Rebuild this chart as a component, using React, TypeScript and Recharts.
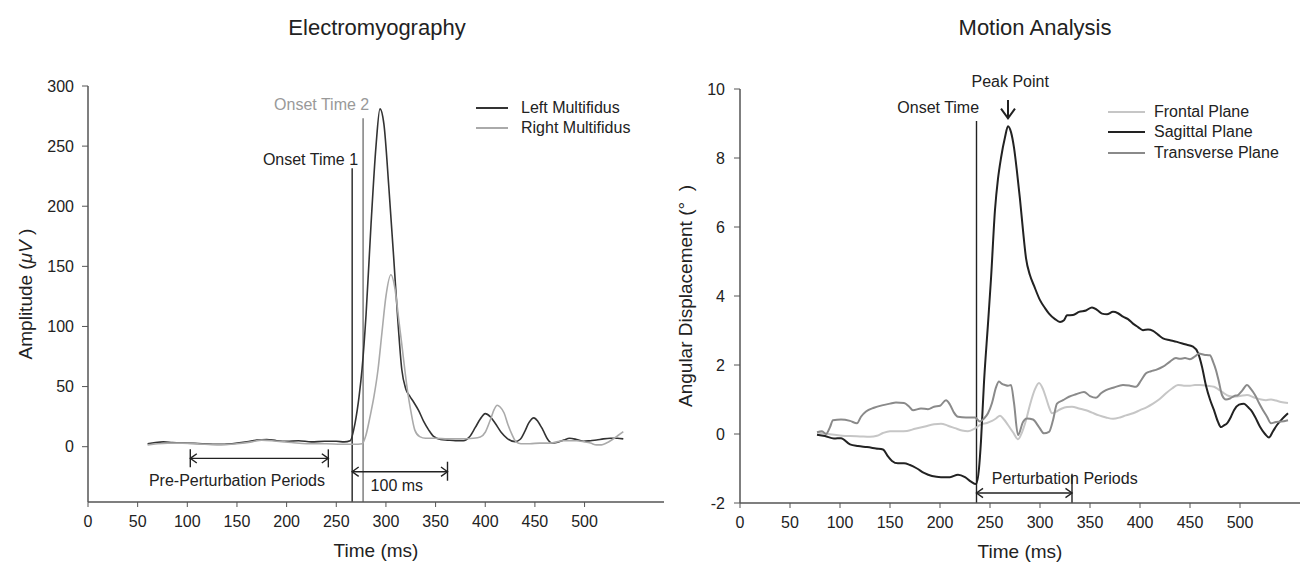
import React from 'react';
import { LineChart, Line, XAxis, YAxis, ReferenceLine, ReferenceDot, Legend } from 'recharts';

const FONT = '"Liberation Sans", Arial, Helvetica, sans-serif';
const INK = '#222';
const AXIS = '#555';

// ---------------- Electromyography (left panel) ----------------
const emgTimeTicks = [0, 50, 100, 150, 200, 250, 300, 350, 400, 450, 500];
const emgAmpTicks = [0, 50, 100, 150, 200, 250, 300];

// [time ms, amplitude µV]
const leftMultifidus: [number, number][] = [
  [60, 2.5], [68, 3.5], [76, 4], [85, 3.5], [100, 3], [115, 2.5], [130, 2], [145, 2.5], [160, 4], [170, 5.5],
  [180, 6], [190, 5], [200, 4.5], [212, 5], [225, 4], [238, 4.5], [250, 4.5], [258, 4], [264, 5], [269, 20],
  [273, 42], [276, 65], [280, 110], [285, 185], [290, 250], [294, 281], [298, 268], [303, 215], [308, 155],
  [312, 105], [316, 64], [320, 48], [324, 42], [328, 37], [333, 30], [338, 21], [343, 14], [348, 8.5], [355, 6],
  [362, 5.5], [370, 5], [378, 5], [384, 8], [390, 16], [395, 23], [400, 27.5], [405, 25], [410, 19.5], [416, 12],
  [422, 7], [430, 4.2], [435, 6], [440, 13], [444, 20], [449, 24], [453, 21], [458, 14], [463, 6], [467, 3],
  [472, 3.5], [479, 5.5], [485, 7], [492, 6], [499, 4.5], [506, 5], [512, 5.5], [519, 6.5], [526, 7], [533, 7],
  [539, 6.5],
];
const rightMultifidus: [number, number][] = [
  [60, 1.5], [70, 2.5], [80, 3], [95, 3], [110, 2.5], [130, 1.5], [150, 2.5], [165, 4], [175, 5.5], [190, 4.5],
  [205, 3.5], [220, 2.5], [240, 2.5], [255, 2], [268, 2], [276, 2.5], [280, 10], [284, 25], [288, 42], [292, 64],
  [296, 95], [300, 125], [305, 143], [309, 132], [313, 105], [316, 85], [319, 64], [322, 45], [325, 30], [329, 14],
  [334, 8.4], [340, 7], [350, 7], [362, 6.5], [375, 6.5], [388, 7], [395, 8], [400, 12], [405, 22], [409, 31],
  [412, 34.5], [415, 33], [419, 28], [423, 18], [427, 10], [431, 4], [436, 2.5], [445, 2.5], [455, 3], [465, 3],
  [479, 5], [492, 5], [500, 4], [506, 3], [512, 1.5], [517, 1.5], [522, 3], [528, 6], [534, 9.5], [539, 12.5],
];

// annotations (data coordinates)
const emgOnsetTimes = [266, 277];
const emgOnsetTops = [231.6, 273.2];
const emgPrePeriod = [103, 242];
const emgPreLevel = -9.7;
const emgPreBar = [-2.2, -17.2];
const emgWindow = [266, 362];
const emgWindowLevel = -20.8;
const emgWindowBar = [-12.5, -28.3];
const emgLabelOnset1 = [224, 239];
const emgLabelOnset2 = [235.3, 284.9];
const emgLabelPre = [150, -28.3];
const emgLabelWindow = [311, -31.9];

// ---------------- Motion Analysis (right panel) ----------------
const motTimeTicks = [0, 50, 100, 150, 200, 250, 300, 350, 400, 450, 500];
const motDegTicks = [-2, 0, 2, 4, 6, 8, 10];

// [time ms, angle deg]
const frontalPlane: [number, number][] = [
  [77, 0.04], [83, 0.02], [90, -0.01], [100, -0.04], [110, -0.06], [120, -0.07], [130, -0.08], [137, -0.05],
  [143, 0.03], [150, 0.08], [160, 0.08], [167, 0.09], [175, 0.15], [185, 0.22], [194, 0.28], [201, 0.3],
  [208, 0.24], [215, 0.17], [222, 0.1], [228, 0.08], [235, 0.16], [241, 0.28], [247, 0.32], [252, 0.38],
  [256, 0.45], [260, 0.53], [264, 0.42], [268, 0.26], [273, 0.05], [278, -0.15], [282, 0.05], [286, 0.4],
  [290, 0.85], [295, 1.3], [299, 1.48], [303, 1.3], [306, 1.05], [309, 0.78], [312, 0.6], [317, 0.66],
  [322, 0.74], [327, 0.78], [332, 0.79], [339, 0.74], [346, 0.69], [352, 0.62], [359, 0.54], [366, 0.48],
  [373, 0.44], [380, 0.48], [386, 0.54], [393, 0.6], [400, 0.69], [407, 0.78], [413, 0.88], [420, 1.02],
  [426, 1.18], [432, 1.32], [438, 1.42], [444, 1.4], [450, 1.4], [455, 1.42], [460, 1.42], [467, 1.4],
  [474, 1.37], [479, 1.28], [484, 1.18], [489, 1.1], [494, 1.08], [500, 1.1], [507, 1.13], [514, 1.06],
  [521, 1.0], [526, 0.98], [531, 1.0], [536, 0.97], [541, 0.93], [548, 0.9],
];
const sagittalPlane: [number, number][] = [
  [77, -0.02], [85, -0.06], [94, -0.13], [101, -0.12], [110, -0.3], [118, -0.35], [127, -0.38], [136, -0.42],
  [143, -0.45], [148, -0.65], [152, -0.78], [158, -0.85], [164, -0.85], [170, -0.9], [177, -1.0], [184, -1.13],
  [192, -1.22], [201, -1.25], [210, -1.25], [218, -1.18], [225, -1.25], [231, -1.38], [236, -1.45], [239, -1.0],
  [241, -0.2], [244, 1.5], [248, 3.2], [251, 4.5], [255, 6.5], [258, 7.4], [261, 8.0], [265, 8.6], [268, 8.92],
  [271, 8.75], [274, 8.3], [277, 7.6], [280, 6.8], [283, 5.9], [286, 5.1], [290, 4.6], [294, 4.3], [300, 3.88],
  [305, 3.65], [309, 3.49], [315, 3.33], [320, 3.25], [324, 3.3], [327, 3.44], [333, 3.45], [339, 3.54],
  [346, 3.58], [352, 3.67], [357, 3.6], [362, 3.49], [367, 3.47], [373, 3.54], [378, 3.5], [383, 3.4],
  [388, 3.33], [393, 3.2], [398, 3.1], [403, 3.01], [408, 3.03], [413, 2.99], [418, 2.88], [423, 2.77],
  [430, 2.72], [437, 2.67], [445, 2.6], [453, 2.53], [458, 2.35], [462, 1.95], [466, 1.4], [470, 1.0],
  [474, 0.69], [478, 0.35], [481, 0.2], [484, 0.25], [487, 0.31], [491, 0.5], [494, 0.69], [499, 0.85],
  [504, 0.88], [508, 0.78], [511, 0.69], [515, 0.5], [520, 0.21], [525, 0.0], [529, -0.1], [533, 0.08],
  [537, 0.26], [542, 0.43], [548, 0.6],
];
const transversePlane: [number, number][] = [
  [77, 0.05], [82, 0.08], [86, 0.0], [90, 0.2], [93, 0.4], [101, 0.42], [110, 0.38], [117, 0.31], [121, 0.5],
  [126, 0.65], [134, 0.76], [142, 0.83], [150, 0.88], [156, 0.91], [164, 0.9], [169, 0.8], [173, 0.69],
  [181, 0.74], [188, 0.72], [194, 0.79], [200, 0.82], [206, 0.98], [210, 0.85], [214, 0.62], [218, 0.5],
  [226, 0.48], [235, 0.48], [240, 0.36], [244, 0.45], [248, 0.6], [252, 0.9], [256, 1.35], [259, 1.52],
  [262, 1.45], [265, 1.42], [268, 1.4], [271, 1.42], [274, 0.9], [278, -0.03], [283, 0.35], [287, 0.45],
  [293, 0.42], [299, 0.2], [304, 0.02], [309, 0.06], [313, 0.4], [317, 0.88], [323, 0.98], [329, 1.08],
  [336, 1.15], [344, 1.22], [350, 1.1], [356, 1.05], [361, 1.18], [366, 1.27], [374, 1.35], [383, 1.42],
  [390, 1.4], [396, 1.37], [401, 1.55], [406, 1.76], [411, 1.82], [416, 1.86], [423, 1.95], [430, 2.1],
  [436, 2.2], [440, 2.18], [445, 2.2], [450, 2.17], [455, 2.25], [459, 2.33], [464, 2.3], [470, 2.28],
  [473, 2.1], [476, 1.85], [479, 1.5], [482, 1.13], [486, 1.0], [490, 1.03], [494, 1.1], [498, 1.13],
  [502, 1.25], [507, 1.42], [511, 1.3], [515, 1.13], [519, 0.9], [523, 0.69], [527, 0.5], [531, 0.31],
  [536, 0.35], [541, 0.36], [548, 0.4],
];

const motOnsetTime = 236.5;
const motOnsetTop = 9.07;
const motPeakArrow = [268, 9.68, 9.15]; // x, from y, to y
const motPeriod = [236.5, 332];
const motPeriodLevel = -1.71;
const motPeriodBar = [-2, -1.15];
const motLabelOnset = [198.2, 9.46];
const motLabelPeak = [270.2, 10.23];
const motLabelPeriod = [324.7, -1.28];

const toRows = (pts: [number, number][]) => pts.map(([t, v]) => ({ t, v }));

// ---------------- helpers ----------------
const arrowShape = (start: boolean, end: boolean, color: string, arm = 8, ang = 0.62, width = 1.4) => (p: any) => {
  const { x1, y1, x2, y2 } = p;
  if ([x1, y1, x2, y2].some((n) => typeof n !== 'number' || isNaN(n))) return <g />;
  const a = Math.atan2(y2 - y1, x2 - x1);
  const head = (x: number, y: number, dir: number) => {
    const b1 = dir + Math.PI - ang;
    const b2 = dir + Math.PI + ang;
    return (
      <polyline
        points={`${x + arm * Math.cos(b1)},${y + arm * Math.sin(b1)} ${x},${y} ${x + arm * Math.cos(b2)},${y + arm * Math.sin(b2)}`}
        fill="none"
        stroke={color}
        strokeWidth={width}
      />
    );
  };
  return (
    <g>
      <line x1={x1} y1={y1} x2={x2} y2={y2} stroke={color} strokeWidth={width} />
      {start && head(x1, y1, a + Math.PI)}
      {end && head(x2, y2, a)}
    </g>
  );
};

const yLabel = (parts: React.ReactNode) => (props: any) => {
  const vb = (props && props.viewBox) || {};
  const cy = (vb.y ?? 0) + (vb.height ?? 0) / 2;
  return (
    <text
      transform={`translate(25,${cy}) rotate(-90)`}
      textAnchor="middle"
      dy="0.36em"
      fontSize={19}
      fill={INK}
      fontFamily={FONT}
    >
      {parts}
    </text>
  );
};

const xLabel = (text: string) => (props: any) => {
  const vb = (props && props.viewBox) || {};
  const cx = (vb.x ?? 0) + (vb.width ?? 0) / 2;
  const y = (vb.y ?? 0) + 55;
  return (
    <text x={cx} y={y} textAnchor="middle" fontSize={19} fill={INK} fontFamily={FONT}>
      {text}
    </text>
  );
};

const legendContent = (lineLen: number, gap: number, rowH: number) => (props: any) => (
  <div style={{ fontFamily: FONT, fontSize: 16, color: INK }}>
    {(props.payload ?? []).map((e: any) => (
      <div key={e.value} style={{ display: 'flex', alignItems: 'center', height: rowH, whiteSpace: 'nowrap' }}>
        <span style={{ display: 'inline-block', width: lineLen, height: 0, borderTop: `2px solid ${e.color}`, marginRight: gap }} />
        <span>{e.value}</span>
      </div>
    ))}
  </div>
);

const tickStyle = { fill: INK, fontSize: 16, fontFamily: FONT };

const textDot = (key: string, pos: number[], text: string, color = INK) => (
  <ReferenceDot
    key={key}
    x={pos[0]}
    y={pos[1]}
    r={0}
    fill="none"
    stroke="none"
    ifOverflow="visible"
    label={{ value: text, position: 'center', fill: color, fontSize: 16, fontFamily: FONT }}
  />
);

function EmgChart() {
  return (
    <LineChart width={680} height={562} margin={{ top: 86, right: 16, bottom: 0, left: 10 }}>
      <XAxis
        type="number"
        dataKey="t"
        domain={[0, 580]}
        ticks={emgTimeTicks}
        allowDataOverflow
        height={60}
        tickSize={5}
        tickMargin={9}
        tick={tickStyle}
        stroke={AXIS}
        axisLine={{ stroke: AXIS, strokeWidth: 1.5 }}
        tickLine={{ stroke: AXIS }}
        label={{ content: xLabel('Time (ms)') }}
      />
      <YAxis
        type="number"
        domain={[-46, 300]}
        ticks={emgAmpTicks}
        allowDataOverflow
        width={78}
        tickSize={6}
        tickMargin={8}
        tick={tickStyle}
        stroke={AXIS}
        axisLine={{ stroke: AXIS, strokeWidth: 1.5 }}
        tickLine={{ stroke: AXIS }}
        label={{ content: yLabel(<>Amplitude (<tspan fontStyle="italic">μV</tspan> )</>) }}
      />
      <Legend
        layout="horizontal"
        align="center"
        verticalAlign="middle"
        wrapperStyle={{ left: 476, top: 98, width: 'auto', height: 'auto' }}
        content={legendContent(32, 13, 20)}
      />
      {/* onset lines */}
      <ReferenceLine
        segment={[{ x: emgOnsetTimes[0], y: -46 }, { x: emgOnsetTimes[0], y: emgOnsetTops[0] }]}
        stroke={INK}
        strokeWidth={1.4}
        ifOverflow="visible"
      />
      <ReferenceLine
        segment={[{ x: emgOnsetTimes[1], y: -46 }, { x: emgOnsetTimes[1], y: emgOnsetTops[1] }]}
        stroke="#777"
        strokeWidth={1.4}
        ifOverflow="visible"
      />
      {/* pre-perturbation arrow */}
      <ReferenceLine
        segment={[{ x: emgPrePeriod[0], y: emgPreLevel }, { x: emgPrePeriod[1], y: emgPreLevel }]}
        ifOverflow="visible"
        shape={arrowShape(true, true, INK)}
      />
      <ReferenceLine
        segment={[{ x: emgPrePeriod[0], y: emgPreBar[0] }, { x: emgPrePeriod[0], y: emgPreBar[1] }]}
        stroke={INK}
        strokeWidth={1.4}
        ifOverflow="visible"
      />
      <ReferenceLine
        segment={[{ x: emgPrePeriod[1], y: emgPreBar[0] }, { x: emgPrePeriod[1], y: emgPreBar[1] }]}
        stroke={INK}
        strokeWidth={1.4}
        ifOverflow="visible"
      />
      {/* 100 ms arrow */}
      <ReferenceLine
        segment={[{ x: emgWindow[0], y: emgWindowLevel }, { x: emgWindow[1], y: emgWindowLevel }]}
        ifOverflow="visible"
        shape={arrowShape(true, true, INK)}
      />
      <ReferenceLine
        segment={[{ x: emgWindow[1], y: emgWindowBar[0] }, { x: emgWindow[1], y: emgWindowBar[1] }]}
        stroke={INK}
        strokeWidth={1.4}
        ifOverflow="visible"
      />
      {textDot('o1', emgLabelOnset1, 'Onset Time 1')}
      {textDot('o2', emgLabelOnset2, 'Onset Time 2', '#999')}
      {textDot('pre', emgLabelPre, 'Pre-Perturbation Periods')}
      {textDot('win', emgLabelWindow, '100 ms')}
      <Line
        data={toRows(leftMultifidus)}
        dataKey="v"
        name="Left Multifidus"
        type="monotone"
        stroke="#333"
        strokeWidth={1.6}
        dot={false}
        activeDot={false}
        isAnimationActive={false}
      />
      <Line
        data={toRows(rightMultifidus)}
        dataKey="v"
        name="Right Multifidus"
        type="monotone"
        stroke="#aaa"
        strokeWidth={1.6}
        dot={false}
        activeDot={false}
        isAnimationActive={false}
      />
    </LineChart>
  );
}

function MotionChart() {
  return (
    <LineChart width={645} height={562} margin={{ top: 89, right: 5, bottom: 0, left: 10 }}>
      <XAxis
        type="number"
        dataKey="t"
        domain={[0, 560]}
        ticks={motTimeTicks}
        allowDataOverflow
        height={59}
        tickSize={5}
        tickMargin={9}
        tick={tickStyle}
        stroke={AXIS}
        axisLine={{ stroke: AXIS, strokeWidth: 1.5 }}
        tickLine={{ stroke: AXIS }}
        label={{ content: xLabel('Time (ms)') }}
      />
      <YAxis
        type="number"
        domain={[-2, 10]}
        ticks={motDegTicks}
        allowDataOverflow
        width={70}
        tickSize={6}
        tickMargin={9}
        tick={tickStyle}
        stroke={AXIS}
        axisLine={{ stroke: AXIS, strokeWidth: 1.5 }}
        tickLine={{ stroke: AXIS }}
        label={{ content: yLabel(<>Angular Displacement (°{'\u00A0\u00A0'})</>) }}
      />
      <Legend
        layout="horizontal"
        align="center"
        verticalAlign="middle"
        wrapperStyle={{ left: 448, top: 102, width: 'auto', height: 'auto' }}
        content={legendContent(37, 9, 20.3)}
      />
      <ReferenceLine
        segment={[{ x: motOnsetTime, y: -2 }, { x: motOnsetTime, y: motOnsetTop }]}
        stroke={INK}
        strokeWidth={1.4}
        ifOverflow="visible"
      />
      <ReferenceLine
        segment={[{ x: motPeakArrow[0], y: motPeakArrow[1] }, { x: motPeakArrow[0], y: motPeakArrow[2] }]}
        ifOverflow="visible"
        shape={arrowShape(false, true, INK, 12, 0.62, 2)}
      />
      <ReferenceLine
        segment={[{ x: motPeriod[0], y: motPeriodLevel }, { x: motPeriod[1], y: motPeriodLevel }]}
        ifOverflow="visible"
        shape={arrowShape(true, true, INK)}
      />
      <ReferenceLine
        segment={[{ x: motPeriod[1], y: motPeriodBar[0] }, { x: motPeriod[1], y: motPeriodBar[1] }]}
        stroke={INK}
        strokeWidth={1.4}
        ifOverflow="visible"
      />
      {textDot('mo', motLabelOnset, 'Onset Time')}
      {textDot('mp', motLabelPeak, 'Peak Point')}
      {textDot('mper', motLabelPeriod, 'Perturbation Periods')}
      <Line
        data={toRows(frontalPlane)}
        dataKey="v"
        name="Frontal Plane"
        type="monotone"
        stroke="#c6c6c6"
        strokeWidth={2}
        dot={false}
        activeDot={false}
        isAnimationActive={false}
      />
      <Line
        data={toRows(sagittalPlane)}
        dataKey="v"
        name="Sagittal Plane"
        type="monotone"
        stroke="#222"
        strokeWidth={2}
        dot={false}
        activeDot={false}
        isAnimationActive={false}
      />
      <Line
        data={toRows(transversePlane)}
        dataKey="v"
        name="Transverse Plane"
        type="monotone"
        stroke="#8a8a8a"
        strokeWidth={2}
        dot={false}
        activeDot={false}
        isAnimationActive={false}
      />
    </LineChart>
  );
}

export default function App() {
  return (
    <div style={{ position: 'absolute', left: 0, top: 0, width: 1305, height: 562, background: '#fff', overflow: 'hidden', fontFamily: FONT }}>
      <div style={{ position: 'absolute', left: 227, width: 300, top: 15, textAlign: 'center', fontSize: 22, lineHeight: '26px', color: INK }}>
        Electromyography
      </div>
      <div style={{ position: 'absolute', left: 885, width: 300, top: 15, textAlign: 'center', fontSize: 22, lineHeight: '26px', color: INK }}>
        Motion Analysis
      </div>
      <div style={{ position: 'absolute', left: 0, top: 0 }}>
        <EmgChart />
      </div>
      <div style={{ position: 'absolute', left: 660, top: 0 }}>
        <MotionChart />
      </div>
    </div>
  );
}
